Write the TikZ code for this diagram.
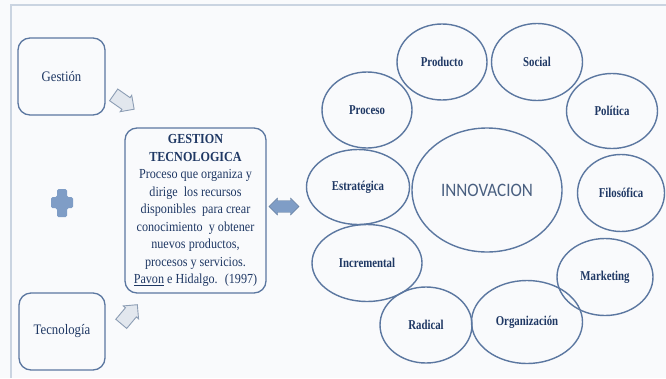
\documentclass[tikz,border=0pt]{standalone}
\usepackage{fontspec}
\setmainfont[FakeStretch=0.88]{Liberation Serif}
\newfontfamily\etiqueta[FakeStretch=0.8]{Liberation Serif}
\newfontfamily\innovfont[FakeStretch=0.9]{Carlito}
\usepackage{tikz}
\usetikzlibrary{shapes.geometric}
\usetikzlibrary{shapes.arrows}

\definecolor{fondo}{HTML}{F9FAFC}
\definecolor{marco}{HTML}{CAD4E1}
\definecolor{linea}{HTML}{5B77A0}
\definecolor{texto}{HTML}{1F3864}
\definecolor{flechafondo}{HTML}{E2E7EE}
\definecolor{flechaborde}{HTML}{8C9DB4}
\definecolor{azulclaro}{HTML}{7F9DC6}

\begin{document}
\begin{tikzpicture}[x=1pt,y=-1pt,
  caja/.style={draw=linea,line width=1.3pt,rounded corners=12pt,text=texto,align=center,inner sep=0pt},
  burbuja/.style={draw=linea,line width=1.4pt,ellipse,inner sep=0pt,text=texto,font=\etiqueta\fontsize{13.5}{15}\selectfont\bfseries},
  flecha/.style={single arrow,draw=flechaborde,fill=flechafondo,line width=0.9pt,minimum height=25pt,minimum width=20pt,single arrow head extend=2pt,inner sep=4.5pt}]
  %background and frame
  \fill[fondo] (0,0) rectangle (666,378);
  \useasboundingbox (0,0) rectangle (666,378);
  \draw[marco,line width=2pt] (11,378) -- (11,5) -- (666,5);

  %left boxes
  \node[caja,name=gestion,at={(61.5,76.5)},minimum width=87pt,minimum height=77pt,font=\fontsize{14.5}{16}\selectfont]{Gestión};
  \node[caja,name=tecnologia,at={(62,331.5)},minimum width=86pt,minimum height=77pt,font=\fontsize{14.5}{16}\selectfont]{Tecnología};

  %plus
  \fill[azulclaro,rounded corners=1.5pt] (57,189) -- (67,189) -- (67,197) -- (73,197) -- (73,208) -- (67,208) -- (67,217) -- (57,217) -- (57,208) -- (51,208) -- (51,197) -- (57,197) -- cycle;

  %block arrows
  \node[flecha,name=flechaG,at={(121,100)},rotate=-35]{};
  \node[flecha,name=flechaT,at={(127,317)},rotate=50]{};

  %central box
  \node[caja,name=gestec,at={(195.5,210.5)},minimum width=141pt,minimum height=165pt,font=\fontsize{13.8}{17.5}\selectfont]{%
    \textbf{GESTION}\\ \textbf{TECNOLOGICA}\\ Proceso que organiza y\\ dirige \ los recursos\\ disponibles \ para crear\\ conocimiento \ y obtener\\ nuevos productos,\\ procesos y servicios.\\ \underline{Pavon} e Hidalgo. \ (1997)};

  %double arrow
  \node[double arrow,name=doble,at={(284,206.5)},fill=azulclaro,draw=azulclaro!80!black,line width=0.4pt,minimum height=30pt,minimum width=17pt,double arrow head extend=2pt,inner sep=4pt]{};

  %innovacion
  \node[burbuja,name=innov,at={(487,190)},minimum width=150pt,minimum height=124pt,font=\innovfont\fontsize{19}{21}\selectfont,text=linea!80!black]{INNOVACION};
  \node[burbuja,name=producto,at={(442,62)},minimum width=90pt,minimum height=76pt]{Producto};
  \node[burbuja,name=social,at={(537,62)},minimum width=91pt,minimum height=77pt]{Social};
  \node[burbuja,name=proceso,at={(367,110)},minimum width=90pt,minimum height=76pt]{Proceso};
  \node[burbuja,name=politica,at={(612,111)},minimum width=91pt,minimum height=75pt]{Política};
  \node[burbuja,name=estrategica,at={(358,187)},minimum width=103pt,minimum height=75pt]{Estratégica};
  \node[burbuja,name=filosofica,at={(621,193)},minimum width=87pt,minimum height=77pt]{Filosófica};
  \node[burbuja,name=incremental,at={(367,263)},minimum width=110pt,minimum height=77pt]{Incremental};
  \node[burbuja,name=marketing,at={(605,277)},minimum width=96pt,minimum height=77pt]{Marketing};
  \node[burbuja,name=radical,at={(426,325)},minimum width=92pt,minimum height=76pt]{Radical};
  \node[burbuja,name=organizacion,at={(527,322)},minimum width=111pt,minimum height=83pt]{Organización};
\end{tikzpicture}
\end{document}
